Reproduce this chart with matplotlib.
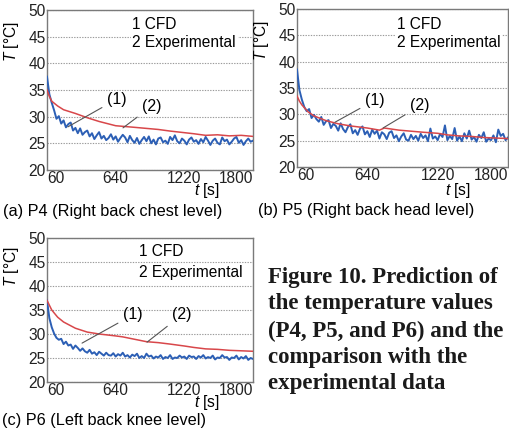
import numpy as np
import matplotlib
matplotlib.use("Agg")
import matplotlib.pyplot as plt

plt.rcParams['font.family'] = ['Liberation Sans', 'DejaVu Sans']
plt.rcParams['mathtext.fontset'] = 'custom'
plt.rcParams['mathtext.it'] = 'Liberation Sans:italic'
plt.rcParams['mathtext.rm'] = 'Liberation Sans'

# ---------------- data ----------------
t_exp = list(range(60, 1801, 20))

exp_p4 = [37.5, 34.2, 32.6, 31.2, 29.6, 30.1, 28.7, 29.3, 28.0, 28.6, 28.9, 27.4, 27.9, 26.9, 27.8, 26.6,
          27.1, 27.4, 26.3, 26.9, 25.8, 26.5, 27.1, 25.9, 26.4, 25.6, 26.0, 26.7, 25.7, 26.3, 25.3, 26.0,
          26.6, 26.1, 25.2, 26.4, 25.6, 25.1, 26.0, 24.9, 25.6, 26.2, 25.4, 26.3, 25.0, 25.7, 24.8, 25.9,
          26.1, 25.2, 25.5, 24.9, 26.2, 25.6, 26.5, 25.4, 25.0, 25.9, 25.5, 24.8, 25.7, 26.1, 25.3, 25.6,
          24.9, 25.8, 25.2, 26.2, 25.5, 24.7, 25.5, 25.9, 25.1, 24.8, 26.1, 25.4, 25.7, 24.8, 25.3, 25.9,
          26.2, 25.1, 25.6, 24.7, 25.4, 25.9, 25.3, 25.5]

exp_p5 = [38.5, 34.6, 32.8, 31.4, 30.6, 31.0, 29.3, 29.9, 29.1, 28.6, 29.5, 28.0, 28.7, 28.9, 27.4, 28.2,
          27.8, 26.9, 28.3, 27.2, 26.6, 27.6, 28.1, 26.4, 27.0, 26.1, 27.3, 27.7, 26.2, 26.8, 25.7, 27.1,
          26.3, 26.9, 25.4, 26.6, 26.2, 25.3, 26.5, 26.8, 25.5, 26.0, 24.9, 25.8, 26.4, 25.2, 25.0, 26.1,
          25.3, 25.9, 25.0, 26.3, 25.5, 26.0, 24.9, 27.3, 25.4, 25.8, 25.1, 26.3, 25.7, 27.9, 25.1, 25.9,
          25.3, 27.4, 25.0, 25.8, 24.9, 26.4, 25.4, 26.9, 25.2, 25.7, 24.8, 26.1, 25.5, 26.6, 24.8, 25.4,
          25.1, 26.0, 24.7, 27.1, 25.9, 26.3, 25.1, 25.6]

exp_p6 = [37.0, 33.3, 31.4, 30.1, 29.2, 28.8, 29.0, 27.9, 28.4, 27.6, 27.8, 26.9, 27.6, 27.1, 26.5, 27.0,
          26.4, 26.1, 26.7, 25.9, 26.2, 25.6, 26.3, 25.9, 25.5, 26.1, 25.6, 25.5, 26.0, 25.3, 25.8, 25.5,
          26.1, 25.3, 25.6, 25.1, 25.7, 25.4, 25.9, 25.0, 25.4, 25.0, 25.9, 25.3, 25.5, 24.9, 25.3, 25.1,
          25.6, 24.8, 25.2, 25.0, 25.6, 24.8, 25.1, 25.0, 25.5, 25.1, 25.3, 24.8, 25.5, 25.2, 25.3, 24.8,
          25.4, 25.1, 25.6, 24.9, 25.2, 25.0, 25.5, 24.7, 25.1, 25.0, 25.6, 25.1, 25.2, 24.6, 25.1, 25.0,
          25.5, 24.7, 25.2, 24.9, 25.4, 24.6, 25.0, 24.8]

t_cfd_p4 = [60, 80, 100, 150, 200, 300, 400, 500, 640, 800, 900, 1000, 1100, 1220, 1300, 1400, 1500, 1600, 1700, 1800]
cfd_p4 = [35.0, 33.8, 32.9, 32.0, 31.3, 30.6, 29.8, 29.1, 28.3, 28.0, 27.8, 27.6, 27.3, 27.0, 26.8, 26.5, 26.6, 26.4, 26.5, 26.3]

t_cfd_p5 = [60, 80, 100, 150, 200, 300, 400, 500, 640, 740, 780, 900, 1000, 1100, 1220, 1300, 1400, 1500, 1600, 1700, 1800]
cfd_p5 = [33.5, 32.5, 31.8, 30.5, 29.7, 28.8, 28.2, 27.8, 27.4, 27.0, 27.4, 27.0, 26.8, 26.6, 26.4, 26.1, 25.9, 25.8, 25.6, 25.5, 25.4]

t_cfd_p6 = [60, 100, 150, 200, 300, 400, 500, 640, 700, 800, 900, 1000, 1100, 1220, 1300, 1400, 1500, 1600, 1700, 1800]
cfd_p6 = [37.0, 35.0, 33.5, 32.5, 31.2, 30.4, 30.0, 29.6, 29.4, 28.9, 28.4, 28.2, 27.9, 27.5, 27.2, 26.9, 26.8, 26.6, 26.5, 26.4]

x_ticks = [60, 640, 1220, 1800]
y_ticks = [20, 25, 30, 35, 40, 45, 50]
legend_lines = ["1 CFD", "2 Experimental"]
captions = ["(a) P4 (Right back chest level)", "(b) P5 (Right back head level)", "(c) P6 (Left back knee level)"]
fig_caption = ["Figure 10. Prediction of", "the temperature values", "(P4, P5, and P6) and the",
               "comparison with the", "experimental data"]

RED = '#d8474a'
BLUE = '#2c5fb5'
GREY = '#7a7a7a'
FS = 11.2

W, H = 509, 432
fig = plt.figure(figsize=(W / 100, H / 100), dpi=100)


def px_axes(l, t, r, b):
    return fig.add_axes([l / W, 1 - b / H, (r - l) / W, (b - t) / H])


panels = [
    dict(box=(47, 10, 253, 170), exp=exp_p4, tc=t_cfd_p4, cfd=cfd_p4,
         a1=((651, 33.3), (237, 28.1)), a2=((947, 32.0), (702, 27.9)),
         leg=(0.415, 0.912, 0.797), xl=(0.777, -0.125), cap=(3, 212)),
    dict(box=(297, 9, 508, 167), exp=exp_p5, tc=t_cfd_p5, cfd=cfd_p5,
         a1=((703, 32.7), (373, 28.5)), a2=((1074, 31.6), (769, 27.4)),
         leg=(0.475, 0.905, 0.79), xl=(0.763, -0.146), cap=(258, 210)),
    dict(box=(47, 238, 253, 382), exp=exp_p6, tc=t_cfd_p6, cfd=cfd_p6,
         a1=((786, 34.0), (356, 28.1)), a2=((1200, 34.0), (905, 28.3)),
         leg=(0.447, 0.903, 0.757), xl=(0.777, -0.145), cap=(2, 421)),
]

for i, p in enumerate(panels):
    ax = px_axes(*p['box'])
    ax.plot(t_exp, p['exp'], color=BLUE, lw=1.4, zorder=3)
    ax.plot(p['tc'], p['cfd'], color=RED, lw=1.1, zorder=4)
    ax.set_xlim(60, 1800)
    ax.set_ylim(20, 50)
    ax.set_xticks(x_ticks)
    ax.set_xticklabels([str(v) for v in x_ticks], fontsize=FS)
    labs = ax.get_xticklabels()
    labs[0].set_ha('left')
    labs[-1].set_ha('right')
    ax.set_yticks(y_ticks)
    ax.set_yticklabels([str(v) for v in y_ticks], fontsize=FS)
    ax.tick_params(length=0, pad=1.0, colors='#222222')
    ax.yaxis.grid(True, linestyle=(0, (1.2, 1.2)), color='#9a9a9a', lw=0.8)
    for s in ax.spines.values():
        s.set_color(GREY)
        s.set_linewidth(1.0)
    ax.text(-0.17, 0.80, r'$T$ [°C]', transform=ax.transAxes, rotation=90,
            ha='center', va='center', fontsize=FS)
    ax.text(p['xl'][0], p['xl'][1], r'$t$ [s]', transform=ax.transAxes,
            ha='center', va='center', fontsize=FS)
    lx, ly1, ly2 = p['leg']
    ax.text(lx, ly1, legend_lines[0], transform=ax.transAxes, ha='left', va='center',
            fontsize=FS, bbox=dict(facecolor='white', edgecolor='none', pad=1), zorder=6)
    ax.text(lx, ly2, legend_lines[1], transform=ax.transAxes, ha='left', va='center',
            fontsize=FS, bbox=dict(facecolor='white', edgecolor='none', pad=1), zorder=6)
    for lbl, (txt, tip) in zip(['(1)', '(2)'], [p['a1'], p['a2']]):
        ax.annotate(lbl, xy=tip, xytext=txt, fontsize=11.5, ha='center', va='center',
                    arrowprops=dict(arrowstyle='-', color='#555555', lw=0.8,
                                    shrinkA=2, shrinkB=0), zorder=6)
    fig.text(p['cap'][0] / W, 1 - p['cap'][1] / H, captions[i], ha='left', va='center',
             fontsize=11.7)

ys = [277, 304, 331, 357, 383]
for line, y in zip(fig_caption, ys):
    fig.text(268 / W, 1 - y / H, line, ha='left', va='center', fontsize=16.5,
             fontweight='bold', family=['Liberation Serif', 'DejaVu Serif'], color='#1a1a1a')

fig.savefig('out.png', dpi=100)
